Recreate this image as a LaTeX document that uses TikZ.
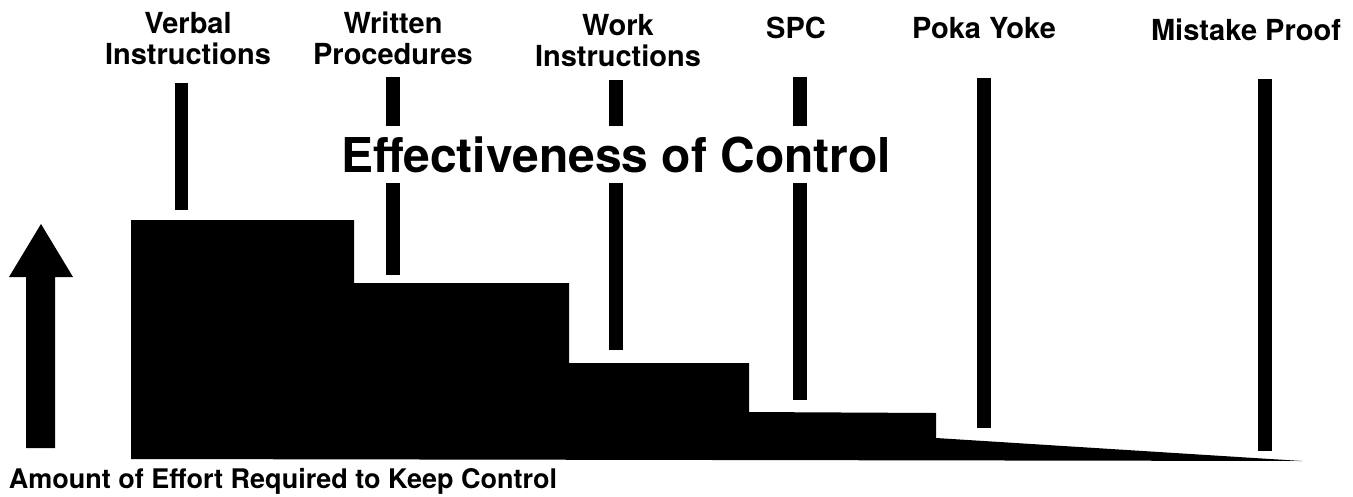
\documentclass[tikz,border=0pt]{standalone}
\usepackage{fontspec}
\setmainfont{TeX Gyre Heros}
\begin{document}
\begin{tikzpicture}[x=1pt,y=-1pt,
  bar/.style={fill=black},
  lbl/.style={font=\fontsize{29}{31}\selectfont\bfseries, align=center, inner sep=0pt, anchor=base},
  title/.style={font=\fontsize{48}{50}\selectfont\bfseries, fill=white, inner xsep=0pt, inner ysep=10pt, anchor=base},
  axis/.style={font=\fontsize{27}{30}\selectfont\bfseries, inner sep=0pt, anchor=base}]
\useasboundingbox (0,0) rectangle (1353,496);

% upward arrow on the left
\fill (26,448) -- (26,277) -- (9,277) -- (41,224) -- (73,277) -- (55,277) -- (55,448) -- cycle;

% staircase of effort
\fill (131,459) -- (131,220) -- (354,220) -- (354,283) -- (569,283) -- (569,363)
  -- (749,363) -- (749,412) -- (936,413) -- (936,438) -- (1302,461) -- (131,459) -- cycle;

% vertical markers
\fill[bar] (175,83) rectangle (188,210);
\fill[bar] (386,77) rectangle (400,275);
\fill[bar] (609,80) rectangle (623,350);
\fill[bar] (793,77) rectangle (807,400);
\fill[bar] (977,78) rectangle (991,428);
\fill[bar] (1258,79) rectangle (1272,451);

% category labels (anchored on the baseline of their last line)
\node[lbl] (verbal)  at (188,64) {Verbal\\Instructions};
\node[lbl] (written) at (393,64) {Written\\Procedures};
\node[lbl] (work)    at (618,66) {Work\\Instructions};
\node[lbl] (spc)     at (796,38) {SPC};
\node[lbl] (poka)    at (984,38) {Poka Yoke};
\node[lbl] (mistake) at (1246,40) {Mistake Proof};

% title over the markers
\node[title] (eff) at (616,172) {Effectiveness of Control};

% axis caption
\node[axis] (effort) at (283,488) {Amount of Effort Required to Keep Control};
\end{tikzpicture}
\end{document}
